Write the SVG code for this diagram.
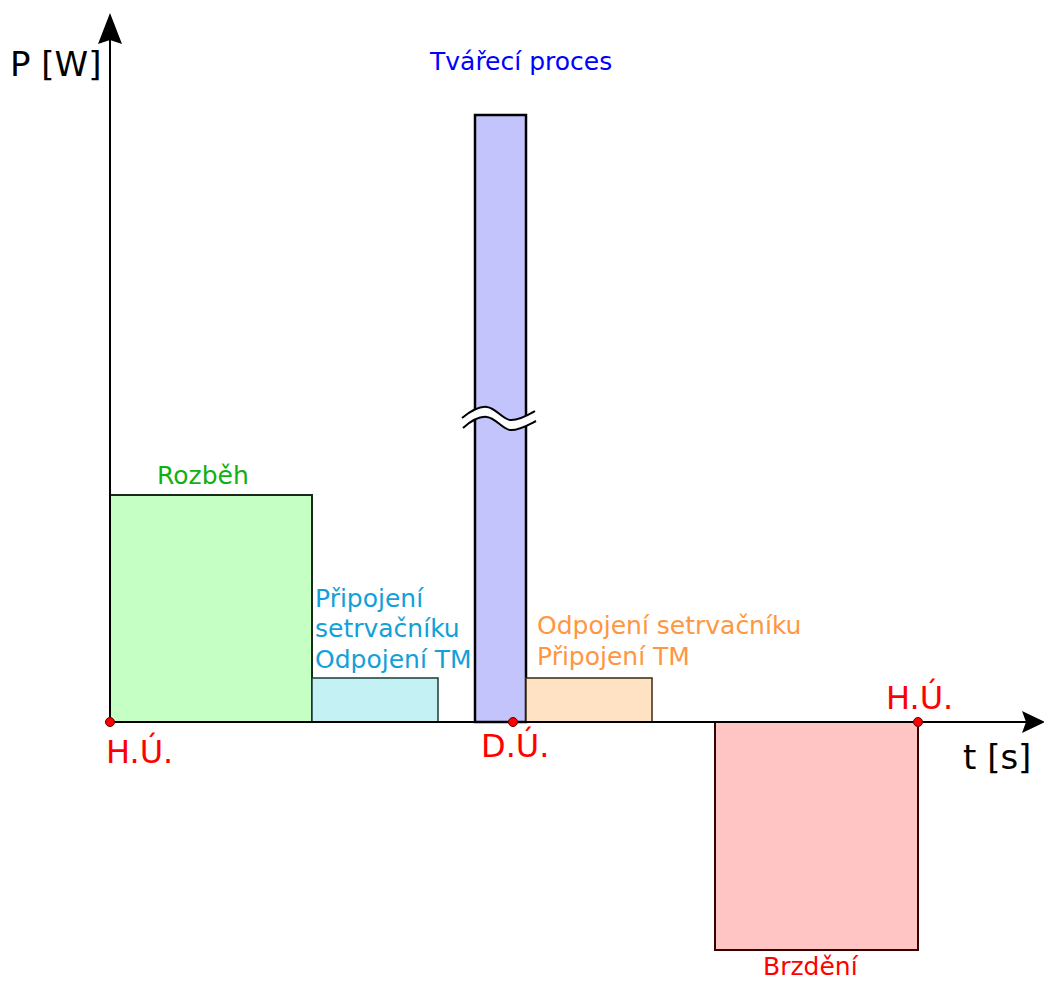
<svg xmlns="http://www.w3.org/2000/svg" width="1044" height="981" viewBox="0 0 1044 981">
<style>
text{font-family:"DejaVu Sans","Liberation Sans",sans-serif;}
.ax{stroke:#000;stroke-width:2;fill:none;}
.dot{fill:#ff0000;stroke:#600000;stroke-width:1;}
.lbl{font-size:25px;}
.big{font-size:34px;fill:#000;}
.hu{font-size:32px;fill:#ff0000;}
.brk{fill:none;stroke:#000;stroke-width:2;}
</style>
<rect width="1044" height="981" fill="#fff"/>
<g id="n-rozbeh">
<rect x="110" y="495" width="202" height="227" fill="#c6ffc4" stroke="#1a2a1a" stroke-width="2"/>
<text class="lbl" x="157" y="484" fill="#10b010">Rozběh</text>
</g>
<g id="n-pripojeni">
<rect x="312" y="678" width="126" height="44" fill="#c4f2f4" stroke="#1a3a3a" stroke-width="1.5"/>
<text class="lbl" x="315" y="607" fill="#12a0d8">Připojení</text>
<text class="lbl" x="315" y="637" fill="#12a0d8">setrvačníku</text>
<text class="lbl" x="315" y="668" fill="#12a0d8">Odpojení TM</text>
</g>
<g id="n-tvareni">
<rect x="475" y="115" width="51" height="607" fill="#c4c4fc" stroke="#000" stroke-width="2.5"/>
<path d="M462,418 C472,410 480,406 487,407 C496,408 502,419 510,420 C518,421 528,415 535,411 L536,421 C528,425 518,431 510,430 C502,429 496,418 487,417 C480,416 472,420 463,428 Z" fill="#fff" stroke="none"/>
<path class="brk" d="M462,418 C472,410 480,406 487,407 C496,408 502,419 510,420 C518,421 528,415 535,411"/>
<path class="brk" d="M463,428 C472,420 480,416 487,417 C496,418 502,429 510,430 C518,431 528,425 536,421"/>
<text class="lbl" x="430" y="70" fill="#0000ff">Tvářecí proces</text>
</g>
<g id="n-odpojeni">
<rect x="526" y="678" width="126" height="44" fill="#ffe2c4" stroke="#3a2a10" stroke-width="1.5"/>
<text class="lbl" x="537" y="634" fill="#ff9640">Odpojení setrvačníku</text>
<text class="lbl" x="537" y="665" fill="#ff9640">Připojení TM</text>
</g>
<g id="n-brzdeni">
<rect x="715" y="722" width="203" height="228" fill="#ffc4c4" stroke="#3a0000" stroke-width="2"/>
<text class="lbl" x="763" y="975" fill="#ff0000">Brzdění</text>
</g>
<g id="connectors">
<line class="ax" x1="110" y1="722" x2="110" y2="30"/>
<path d="M110,13 L122,44 L110,40 L98,44 Z" fill="#000"/>
<line class="ax" x1="110" y1="722" x2="1030" y2="722"/>
<path d="M1045,722 L1022,733 L1026,722 L1022,711 Z" fill="#000"/>
</g>
<g id="n-points">
<circle class="dot" cx="110" cy="722" r="4.5"/>
<circle class="dot" cx="513" cy="722" r="4.5"/>
<circle class="dot" cx="918" cy="722" r="4.5"/>
<text class="hu" x="106" y="763">H.Ú.</text>
<text class="hu" x="481" y="757">D.Ú.</text>
<text class="hu" x="886" y="709">H.Ú.</text>
</g>
<g id="n-axis-labels">
<text class="big" x="10" y="76">P [W]</text>
<text class="big" x="963" y="769">t [s]</text>
</g>
</svg>
